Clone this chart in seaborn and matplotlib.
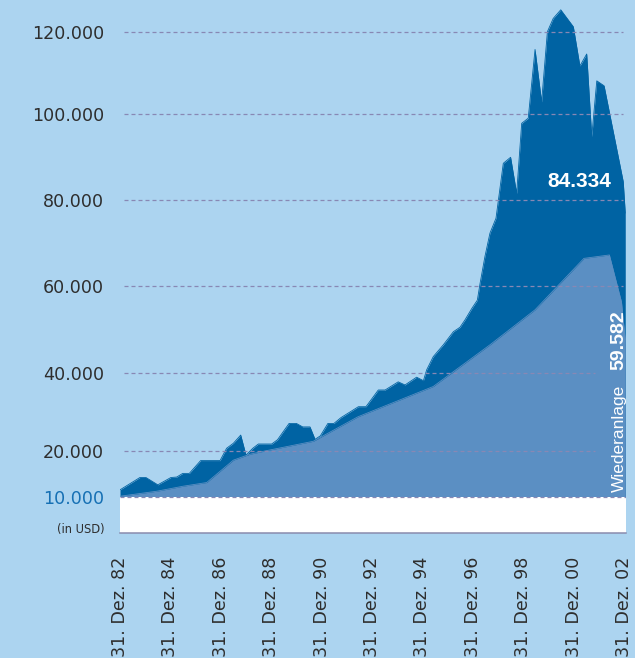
import numpy as np
import pandas as pd
import matplotlib
matplotlib.use("Agg")
import matplotlib.pyplot as plt
import seaborn as sns

# ---------------- data ----------------
total_years = [82.00, 82.79, 83.03, 83.50, 84.02, 84.25, 84.49, 84.75, 85.20, 85.97,
               86.23, 86.50, 86.79, 87.00, 87.27, 87.49, 88.02, 88.25, 88.71, 89.00,
               89.25, 89.54, 89.74, 89.95, 90.25, 90.49, 90.77, 91.46, 91.76, 92.25,
               92.52, 93.04, 93.31, 93.77, 94.04, 94.17, 94.43, 94.83, 95.23, 95.49,
               95.69, 95.96, 96.18, 96.29, 96.48, 96.68, 96.92, 97.21, 97.50, 97.74,
               97.94, 98.20, 98.47, 98.73, 98.96, 99.19, 99.49, 99.99, 100.25, 100.52,
               100.72, 100.92, 101.21, 101.97, 102.05]
total_values = [11500, 14200, 14200, 12600, 14200, 14300, 15100, 15100, 17900, 17900,
                20700, 22000, 24100, 19100, 20700, 21800, 21800, 22900, 27100, 27100,
                26200, 26200, 23000, 23900, 27100, 27100, 28600, 31400, 31400, 35700,
                35700, 37800, 37000, 39000, 38100, 40800, 43800, 46500, 49500, 50500,
                52200, 54800, 56700, 60600, 66800, 72300, 75800, 88600, 90000, 81600,
                97900, 99100, 115700, 103000, 120000, 123200, 125300, 121200, 111700, 114600,
                94800, 108100, 106900, 84334, 77000]

reinv_years = [82.00, 83.46, 84.51, 85.44, 86.50, 87.16, 87.82, 89.67, 91.44, 94.43,
               96.68, 98.47, 100.41, 101.42, 101.90, 102.05]
reinv_values = [10100, 11200, 12300, 13100, 18000, 19300, 20100, 22500, 28800, 36600,
                46500, 54500, 66400, 67200, 56300, 47600]

tick_years = [82, 84, 86, 88, 90, 92, 94, 96, 98, 100, 102]
tick_labels = ["31. Dez. 82", "31. Dez. 84", "31. Dez. 86", "31. Dez. 88",
               "31. Dez. 90", "31. Dez. 92", "31. Dez. 94", "31. Dez. 96",
               "31. Dez. 98", "31. Dez. 00", "31. Dez. 02"]
y_ticks = [10000, 20000, 40000, 60000, 80000, 100000, 120000]
y_tick_labels = ["10.000", "20.000", "40.000", "60.000", "80.000", "100.000", "120.000"]

total_label = "84.334"
reinv_label_word = "Wiederanlage"
reinv_label_value = "59.582"
unit_label = "(in USD)"

# ---------------- style ----------------
BG = "#acd4f0"
DARK = "#0063a3"
LIGHT = "#5b8fc3"
GRID = "#8888b4"
TXT = "#2e2e2e"
BLUE_TXT = "#1670b4"

sns.set_style("white", {"axes.facecolor": BG, "figure.facecolor": BG})
plt.rcParams["font.family"] = ["DejaVu Sans"]

# the original chart's value axis is not exactly linear: piecewise scale
scale_values = [0, 10000, 20000, 40000, 60000, 80000, 100000, 120000, 140000]
scale_pos = [0, 36, 81.7, 159.4, 247, 332.4, 418.4, 501, 583.6]


def fwd(v):
    return np.interp(v, scale_values, scale_pos)


def inv(p):
    return np.interp(p, scale_pos, scale_values)


W, H = 635, 658
fig = plt.figure(figsize=(W / 100, H / 100), dpi=100)
fig.patch.set_facecolor(BG)
ax_left, ax_right, ax_bottom = 119.5, 625.7, 532.7
ax = fig.add_axes([ax_left / W, (H - ax_bottom) / H, (ax_right - ax_left) / W, ax_bottom / H])
ax.set_facecolor(BG)

df_total = pd.DataFrame({"year": total_years, "value": total_values})
df_reinv = pd.DataFrame({"year": reinv_years, "value": reinv_values})

ax.fill_between(df_total["year"], 10000, df_total["value"], color=DARK, lw=0, zorder=1.0)
sns.lineplot(data=df_total, x="year", y="value", color=DARK, lw=0.6, ax=ax, zorder=1.05)
ax.fill_between(df_reinv["year"], 10000, df_reinv["value"], color=LIGHT, lw=0, zorder=1.1)
sns.lineplot(data=df_reinv, x="year", y="value", color=LIGHT, lw=0.6, ax=ax, zorder=1.15)

ax.set_yscale("function", functions=(fwd, inv))
px_per_year = 25.2
ax.set_xlim(82 - (120 - ax_left) / px_per_year, 82 + (ax_right - 120) / px_per_year)
ax.set_ylim(0, 127675)

# white band below 10.000
ax.axhspan(0, 10000, color="white", lw=0, zorder=1.2)

# dashed gridlines
axw = ax_right - ax_left
grid_start = (124 - ax_left) / axw
grid_end = {10000: 1.0, 20000: (595 - ax_left) / axw, 40000: (595 - ax_left) / axw}
for yv in y_ticks:
    ax.axhline(yv, xmin=grid_start if yv != 10000 else 0.0,
               xmax=grid_end.get(yv, (622.5 - ax_left) / axw),
               color=GRID, lw=0.9, linestyle=(0, (3.2, 2.4)), zorder=1.3)

ax.set_yticks(y_ticks, y_tick_labels)
ax.set_xticks(tick_years, tick_labels, rotation=90)
ax.set_xlabel("")
ax.set_ylabel("")

ax.tick_params(axis="y", length=0, pad=10.9, labelsize=12.6, labelcolor=TXT)
ax.tick_params(axis="x", direction="in", length=3.6, width=1.1, color="#7a7eb0",
               pad=17.3, labelsize=12.6, labelcolor=TXT)
ax.get_yticklabels()[0].set_color(BLUE_TXT)

for s in ["left", "top", "right"]:
    ax.spines[s].set_visible(False)
ax.spines["bottom"].set_color("#8a8cae")
ax.spines["bottom"].set_linewidth(1.1)
ax.spines["bottom"].set_zorder(2.6)

# annotations
fig.text(104.7 / W, 1 - 529 / H, unit_label, ha="right", va="center",
         fontsize=8.3, color=TXT)
fig.text(579 / W, 1 - 186.7 / H, total_label, ha="center", va="baseline",
         fontsize=15, fontweight="bold", color="white", family=["Liberation Sans"])
fig.text(623.5 / W, 1 - 491.7 / H, reinv_label_word, rotation=90, rotation_mode="anchor",
         ha="left", va="baseline", fontsize=12.5, color="white", family=["Liberation Sans"])
fig.text(623.5 / W, 1 - 310 / H, reinv_label_value, rotation=90, rotation_mode="anchor",
         ha="right", va="baseline", fontsize=14, fontweight="bold", color="white",
         family=["Liberation Sans"])

fig.savefig("out.png", dpi=100, facecolor=BG)
